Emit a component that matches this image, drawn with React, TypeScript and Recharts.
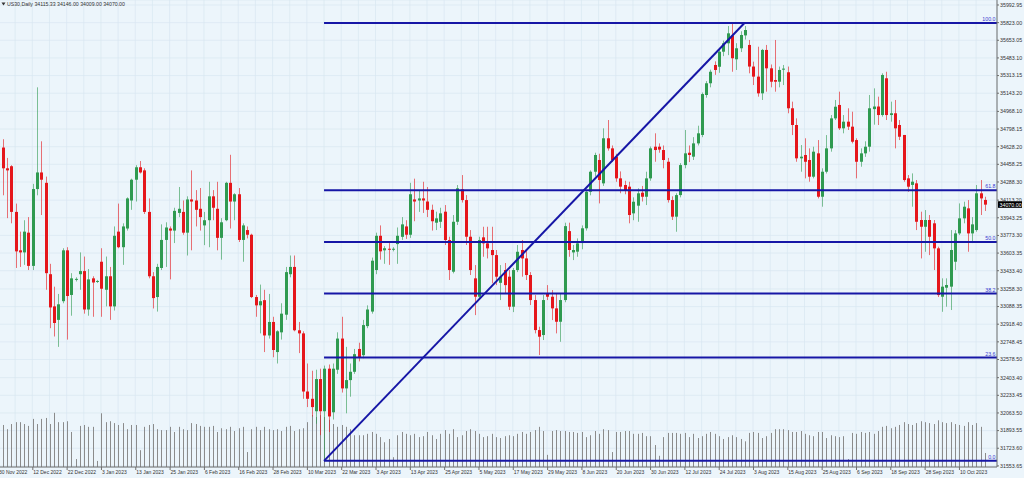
import React from 'react';
import {
  ComposedChart,
  Bar,
  XAxis,
  YAxis,
  CartesianGrid,
  ReferenceLine
} from 'recharts';

// ==========================================
// US30 daily, 30 Nov 2022 -> Oct 2023
// ==========================================

const openPrices = [
  33880, 34620, 34420, 34440, 34000, 33630, 33610, 33800, 33480, 34220,
  34380, 34280, 33400, 33090, 32960, 33140, 33630, 33200, 33350, 33400,
  33430, 33060, 33360, 33330, 33520, 33250, 33380, 33090, 33810, 33660,
  33840, 34110, 34310, 34430, 34400, 34000, 33380, 33180, 33460, 33730,
  33840, 33820, 33990, 34000, 33800, 34120, 34110, 34030, 33870, 33920,
  34150, 34030, 33750, 33920, 34280, 34100, 34170, 33730, 33825, 33780,
  33180, 33100, 33150, 32810, 32940, 32650, 32840, 33010, 33400, 33470,
  32860, 32830, 32270, 32200, 32080, 32390, 32080, 32490, 32070, 32480,
  32780, 32300, 32380, 32460, 32680, 32620, 32900, 33040, 33440, 33770,
  33630, 33645, 33640, 33690, 33760, 33860, 33780, 34120, 34110, 34130,
  34100, 34020, 33896, 33905, 34002, 33729, 33424, 33905, 34217, 34114,
  33761, 33360, 33183, 33755, 33697, 33633, 33584, 33317, 33440, 33376,
  33087, 33440, 33633, 33552, 33392, 33151, 32862, 32814, 33215, 33183,
  33071, 32942, 33151, 33815, 33610, 33617, 33700, 33842, 34194, 34387,
  34500, 34275, 34709, 34612, 34532, 34323, 34259, 34243, 33986, 34060,
  34185, 34146, 34323, 34628, 34628, 34596, 34483, 34114, 33954, 34162,
  34451, 34570, 34532, 34660, 34741, 35126, 35239, 35415, 35398, 35543,
  35624, 35700, 35470, 35576, 35700, 35608, 35400, 35303, 35142, 35560,
  35383, 35270, 35254, 35370, 35345, 34998, 34837, 34516, 34548, 34500,
  34339, 34564, 34146, 34387, 34612, 34901, 35030, 34805, 34869, 34821,
  34692, 34483, 34564, 34628, 34990, 35015, 34933, 35287, 34933, 34950,
  34837, 34741, 34323, 34260, 34275, 33922, 33857, 33922, 33890, 33649,
  33183, 33270, 33280, 33520, 33793, 33938, 34034, 33793, 33825, 34179,
  34115.33
];

const highPrices = [
  34660, 34700, 34520, 34450, 34080, 33810, 33920, 33950, 34270, 35200,
  34680, 34340, 33500, 33280, 33210, 33650, 33660, 33410, 33370, 33610,
  33570, 33450, 33380, 33345, 33650, 33570, 33470, 33860, 34080, 33890,
  34140, 34320, 34450, 34490, 34420, 34130, 33420, 33500, 33880, 33900,
  33860, 34040, 34240, 34110, 34150, 34400, 34210, 34230, 34000, 34290,
  34210, 34290, 33940, 34290, 34550, 34180, 34230, 33890, 33860, 33790,
  33200, 33300, 33250, 33210, 32990, 32860, 33120, 33470, 33580, 33580,
  32940, 32850, 32540, 32470, 32480, 32490, 32520, 32530, 32540, 32840,
  32990, 32700, 32540, 32680, 32740, 32960, 33100, 33560, 33800, 33870,
  33670, 33700, 33660, 33850, 33950, 33920, 34280, 34320, 34210, 34290,
  34240, 34070, 34002, 34040, 34066, 33761, 33970, 34259, 34355, 34162,
  33825, 33488, 33761, 33857, 33857, 33857, 33633, 33488, 33508, 33440,
  33460, 33681, 33729, 33633, 33420, 33199, 32894, 33199, 33295, 33247,
  33215, 33215, 33896, 33896, 33681, 33745, 33870, 34210, 34400, 34570,
  34560, 34805, 34885, 34640, 34560, 34390, 34300, 34290, 34140, 34227,
  34250, 34387, 34630, 34757, 34660, 34640, 34520, 34150, 34180, 34470,
  34789, 34640, 34720, 34830, 35150, 35260, 35370, 35450, 35560, 35650,
  35790, 35820, 35625, 35740, 35790, 35656, 35447, 35591, 35570, 35608,
  35420, 35656, 35400, 35415, 35400, 35062, 34901, 34644, 34709, 34612,
  34628, 34692, 34420, 34740, 34933, 35078, 35158, 34933, 34998, 34965,
  34709, 34612, 34680, 35126, 35190, 35110, 35335, 35350, 35062, 35078,
  34885, 34741, 34355, 34371, 34307, 34002, 34018, 33970, 33922, 33665,
  33360, 33360, 33825, 33825, 34082, 34098, 34114, 33950, 34259, 34307,
  34146
];

const lowPrices = [
  33800, 34160, 33940, 33890, 33460, 33470, 33490, 33440, 33440, 34160,
  33970, 33250, 32880, 32800, 32700, 33120, 32770, 33000, 33330, 33250,
  33020, 33000, 32990, 33315, 32990, 33090, 32960, 33050, 33650, 33490,
  33820, 34020, 34100, 34370, 33980, 33360, 33070, 33040, 33440, 33470,
  33350, 33700, 33950, 33780, 33580, 33630, 33860, 33820, 33680, 33660,
  33920, 33630, 33540, 33910, 33840, 33920, 33710, 33520, 33745, 33170,
  32990, 32830, 32650, 32780, 32600, 32540, 32770, 32960, 33370, 32850,
  32640, 32200, 32120, 32030, 31960, 31850, 31602, 31880, 32000, 32440,
  32260, 32060, 32220, 32440, 32560, 32590, 32880, 33020, 33400, 33540,
  33500, 33490, 33620, 33500, 33730, 33740, 33750, 33910, 34000, 33990,
  33950, 33820, 33825, 33845, 33681, 33344, 33408, 33874, 34090, 33681,
  33392, 33006, 33170, 33568, 33552, 33312, 33295, 33151, 33218, 33055,
  33035, 33420, 33376, 33344, 33103, 32830, 32621, 32766, 33151, 32958,
  32830, 32749, 33130, 33568, 33536, 33568, 33640, 33820, 34160, 34340,
  34082, 34250, 34590, 34480, 34290, 34180, 34170, 33890, 33920, 33905,
  34100, 34066, 34300, 34483, 34570, 34420, 34090, 33922, 33809, 34140,
  34420, 34480, 34500, 34640, 34720, 35100, 35200, 35320, 35340, 35500,
  35510, 35350, 35367, 35540, 35660, 35335, 35222, 35110, 35078, 35158,
  35200, 35158, 35200, 35222, 34950, 34740, 34483, 34387, 34323, 34291,
  34323, 34130, 34050, 34370, 34580, 34885, 34789, 34757, 34789, 34660,
  34323, 34435, 34530, 34580, 34840, 34837, 34917, 34885, 34869, 34612,
  34692, 34291, 34194, 34050, 33825, 33552, 33616, 33584, 33440, 33180,
  33038, 33087, 33055, 33440, 33777, 33890, 33616, 33700, 33809, 33970,
  34009
];

const closePrices = [
  34620, 34420, 34400, 34000, 33620, 33610, 33810, 33480, 34220, 34380,
  34310, 33410, 33080, 32930, 33110, 33630, 33190, 33360, 33355, 33430,
  33060, 33350, 33320, 33335, 33260, 33380, 33090, 33770, 33660, 33860,
  34130, 34310, 34430, 34380, 34000, 33380, 33170, 33470, 33730, 33850,
  33820, 34010, 34030, 33800, 34120, 34100, 34020, 33950, 33920, 34150,
  34040, 33750, 33900, 34280, 34100, 34170, 33730, 33870, 33780, 33180,
  33100, 33140, 32810, 32940, 32670, 32850, 33020, 33420, 33470, 32860,
  32830, 32270, 32200, 32120, 32390, 32080, 32490, 32030, 32490, 32780,
  32300, 32380, 32460, 32630, 32600, 32910, 33060, 33530, 33770, 33620,
  33650, 33640, 33645, 33770, 33880, 33780, 34170, 34100, 34130, 34110,
  34020, 33910, 33938, 33986, 33729, 33440, 33905, 34227, 34114, 33761,
  33440, 33183, 33729, 33697, 33649, 33584, 33376, 33376, 33295, 33087,
  33440, 33616, 33552, 33392, 33151, 32862, 32798, 33151, 33183, 33071,
  32942, 33151, 33863, 33633, 33633, 33697, 33842, 34194, 34387, 34548,
  34307, 34709, 34612, 34500, 34323, 34243, 34210, 33970, 34098, 34179,
  34146, 34323, 34612, 34596, 34600, 34500, 34114, 33954, 34162, 34451,
  34564, 34548, 34660, 34757, 35135, 35239, 35350, 35367, 35543, 35624,
  35720, 35480, 35576, 35704, 35752, 35400, 35303, 35142, 35560, 35383,
  35254, 35254, 35367, 35380, 34998, 34837, 34516, 34532, 34483, 34339,
  34580, 34146, 34387, 34612, 34901, 35013, 34805, 34869, 34821, 34676,
  34483, 34564, 34628, 34998, 35015, 34933, 35319, 34933, 34950, 34805,
  34724, 34307, 34243, 34291, 33905, 33857, 33922, 33761, 33649, 33199,
  33280, 33296, 33633, 33793, 33938, 34050, 33793, 33880, 34179, 34130,
  34070
];

const tickVolumes = [
  100, 90, 81, 92, 96, 96, 92, 88, 103, 92,
  103, 105, 92, 116, 96, 96, 98, 75, 17, 88,
  90, 86, 86, 13, 115, 96, 98, 94, 90, 94,
  81, 90, 90, 36, 86, 90, 92, 81, 79, 79,
  86, 75, 86, 81, 79, 94, 92, 88, 86, 86,
  88, 75, 83, 81, 86, 77, 83, 86, 32, 81,
  86, 79, 86, 81, 79, 81, 77, 86, 88, 77,
  81, 83, 96, 111, 107, 111, 107, 101, 92, 86,
  90, 86, 81, 68, 68, 68, 71, 75, 71, 64,
  53, 60, 21, 68, 75, 71, 68, 71, 64, 66,
  75, 68, 60, 71, 79, 71, 81, 64, 68, 77,
  81, 77, 71, 64, 66, 71, 64, 62, 66, 68,
  66, 71, 75, 71, 75, 79, 86, 77, 26, 77,
  79, 77, 77, 75, 75, 73, 75, 64, 68, 77,
  71, 81, 79, 32, 75, 75, 77, 77, 71, 71,
  73, 66, 66, 47, 24, 64, 73, 73, 73, 71,
  73, 64, 71, 62, 66, 71, 75, 71, 66, 60,
  64, 68, 64, 60, 55, 73, 75, 73, 62, 66,
  73, 81, 81, 81, 79, 75, 75, 77, 71, 68,
  66, 75, 75, 62, 68, 66, 64, 66, 17, 73,
  71, 75, 73, 75, 71, 77, 86, 88, 83, 86,
  90, 96, 92, 90, 94, 98, 96, 94, 92, 100,
  96, 94, 96, 92, 90, 88, 96, 90, 94, 86,
  30
];

// one date label every 8 bars
const dateLabels = [
  '30 Nov 2022', '12 Dec 2022', '22 Dec 2022', '3 Jan 2023', '13 Jan 2023',
  '25 Jan 2023', '6 Feb 2023', '16 Feb 2023', '28 Feb 2023', '10 Mar 2023',
  '22 Mar 2023', '3 Apr 2023', '13 Apr 2023', '25 Apr 2023', '5 May 2023',
  '17 May 2023', '29 May 2023', '8 Jun 2023', '20 Jun 2023', '30 Jun 2023',
  '12 Jul 2023', '24 Jul 2023', '3 Aug 2023', '15 Aug 2023', '25 Aug 2023',
  '6 Sep 2023', '18 Sep 2023', '28 Sep 2023', '10 Oct 2023'
];

const priceTicks = [
  35992.95, 35823.0, 35653.05, 35483.1, 35313.15, 35143.2, 34968.1,
  34798.15, 34628.2, 34458.25, 34288.3, 34113.2, 33943.25, 33773.3,
  33603.35, 33433.4, 33258.3, 33088.35, 32918.4, 32748.45, 32578.5,
  32403.4, 32233.45, 32063.5, 31893.55, 31723.6, 31553.65
];

// fibonacci retracement (anchors: low bar -> high)
const fibLow = 31602;
const fibHigh = 35820;
const fibLevels = [0, 23.6, 38.2, 50, 61.8, 100];
const fibStartBar = 76;
const fibEndBar = 174;

// ==========================================
// layout constants
// ==========================================

const FONT = '"Liberation Sans", Arial, sans-serif';
const BULL = '#2f9a50';
const BEAR = '#e5161b';
const FIB = '#1616a6';
const X_DOMAIN: [number, number] = [-0.466, 232.87];
const Y_DOMAIN: [number, number] = [31543, 36041];

const last = closePrices.length - 1;

const bars = openPrices.map((o, i) => ({
  i,
  range: [lowPrices[i], highPrices[i]],
  o,
  h: highPrices[i],
  l: lowPrices[i],
  c: closePrices[i],
  vol: tickVolumes[i]
}));

const gridBars = Array.from({ length: 58 }, (_, k) => k * 4);

const fibPrice = (pct: number) => fibLow + ((fibHigh - fibLow) * pct) / 100;

function Candle(props: any) {
  const { x, y, width, height, payload } = props;
  if (!payload || x == null || y == null) return null;
  const top = Math.min(y, y + height);
  const span = Math.abs(height);
  const k = payload.h > payload.l ? span / (payload.h - payload.l) : 0;
  const py = (p: number) => top + (payload.h - p) * k;
  const cx = Math.round(x + width / 2);
  const color = payload.c >= payload.o ? BULL : BEAR;
  const bodyTop = py(Math.max(payload.o, payload.c));
  const bodyH = Math.max(1, py(Math.min(payload.o, payload.c)) - bodyTop);
  return (
    <g>
      <line
        x1={cx + 0.5}
        x2={cx + 0.5}
        y1={top}
        y2={top + span}
        stroke={color}
        strokeOpacity={0.6}
        strokeWidth={1}
      />
      <rect x={cx - 1} y={bodyTop} width={3} height={bodyH} fill={color} />
    </g>
  );
}

function VolumeLine(props: any) {
  const { x, y, width, height } = props;
  if (x == null || y == null) return null;
  const cx = Math.round(x + width / 2) + 0.5;
  return (
    <line
      x1={cx}
      x2={cx}
      y1={Math.min(y, y + height)}
      y2={Math.max(y, y + height)}
      stroke="#8b8b8b"
      strokeWidth={1}
    />
  );
}

function DateTick(props: any) {
  const { x, y, payload } = props;
  const v = payload?.value;
  if (v == null || v % 8 !== 0) return null;
  const label = dateLabels[v / 8];
  if (!label) return null;
  return (
    <g>
      <line x1={x + 0.5} x2={x + 0.5} y1={y} y2={y + 3} stroke="#6e6e6e" />
      <text x={x + 1} y={y + 7.2} fontSize={5} fill="#333" fontFamily={FONT}>
        {label}
      </text>
    </g>
  );
}

function FibTag(props: any) {
  const vb = props.viewBox;
  if (!vb) return null;
  const right = vb.x2 != null ? Math.max(vb.x1, vb.x2) : vb.x + vb.width;
  const yy = vb.y2 != null ? vb.y2 : vb.y;
  return (
    <text
      x={right - 1.5}
      y={yy - 1.8}
      textAnchor="end"
      fontSize={5.3}
      fill="#3b3bd0"
      fontFamily={FONT}
    >
      {props.text}
    </text>
  );
}

function PriceTag(props: any) {
  const vb = props.viewBox;
  if (!vb) return null;
  const right = vb.x2 != null ? Math.max(vb.x1, vb.x2) : vb.x + vb.width;
  const yy = vb.y2 != null ? vb.y2 : vb.y;
  return (
    <g>
      <rect x={right + 1} y={yy - 3.4} width={24} height={6.6} fill="#000" />
      <text
        x={right + 2.5}
        y={yy + 1.9}
        fontSize={5.3}
        fill="#fff"
        fontFamily={FONT}
      >
        {closePrices[last].toFixed(2)}
      </text>
    </g>
  );
}

export default function App() {
  const header = `US30,Daily  ${openPrices[last].toFixed(2)} ${highPrices[last].toFixed(2)} ${lowPrices[last].toFixed(2)} ${closePrices[last].toFixed(2)}`;

  return (
    <div
      style={{
        position: 'absolute',
        left: 0,
        top: 0,
        width: 1024,
        height: 478,
        overflow: 'hidden',
        background: '#ecf5fb'
      }}
    >
      <div style={{ position: 'absolute', left: -4, top: 0 }}>
        <ComposedChart
          width={1028}
          height={478}
          data={bars}
          margin={{ top: 0, right: 0, bottom: 0, left: 0 }}
        >
          <CartesianGrid xAxisId="t" yAxisId="p" stroke="#d8e6f1" strokeWidth={0.7} />

          <XAxis
            xAxisId="t"
            dataKey="i"
            type="number"
            domain={X_DOMAIN}
            allowDataOverflow
            ticks={gridBars}
            interval={0}
            height={11}
            tickSize={0}
            tickMargin={0}
            tickLine={false}
            tick={<DateTick />}
            axisLine={{ stroke: '#6e6e6e' }}
          />
          <XAxis
            xAxisId="v"
            dataKey="i"
            type="number"
            domain={X_DOMAIN}
            allowDataOverflow
            hide
          />

          <YAxis
            yAxisId="p"
            orientation="right"
            type="number"
            width={27}
            domain={Y_DOMAIN}
            allowDataOverflow
            ticks={priceTicks}
            interval={0}
            tickSize={2}
            tickMargin={1}
            tickFormatter={(v: number) => v.toFixed(2)}
            tick={{ fontSize: 5.3, fill: '#333', fontFamily: FONT }}
            axisLine={{ stroke: '#6e6e6e' }}
            tickLine={{ stroke: '#6e6e6e' }}
          />
          <YAxis yAxisId="vol" hide domain={[0, 1000]} />

          <Bar
            xAxisId="v"
            yAxisId="vol"
            dataKey="vol"
            barSize={3}
            shape={<VolumeLine />}
            isAnimationActive={false}
          />

          <Bar
            xAxisId="t"
            yAxisId="p"
            dataKey="range"
            barSize={3}
            shape={<Candle />}
            isAnimationActive={false}
          />

          {fibLevels.map((pct) => (
            <ReferenceLine
              key={pct}
              xAxisId="t"
              yAxisId="p"
              ifOverflow="visible"
              segment={[
                { x: fibStartBar, y: fibPrice(pct) },
                { x: X_DOMAIN[1], y: fibPrice(pct) }
              ]}
              stroke={FIB}
              strokeWidth={2}
              label={(p: any) => <FibTag {...p} text={pct.toFixed(1)} />}
            />
          ))}

          <ReferenceLine
            xAxisId="t"
            yAxisId="p"
            ifOverflow="visible"
            segment={[
              { x: fibStartBar, y: fibLow },
              { x: fibEndBar, y: fibHigh }
            ]}
            stroke={FIB}
            strokeWidth={2}
          />

          <ReferenceLine
            xAxisId="t"
            yAxisId="p"
            ifOverflow="visible"
            y={closePrices[last]}
            stroke="none"
            label={(p: any) => <PriceTag {...p} />}
          />
        </ComposedChart>
      </div>

      <svg
        width={200}
        height={12}
        style={{ position: 'absolute', left: 0, top: 0 }}
      >
        <polygon points="1.5,2.6 5.5,2.6 3.5,5.6" fill="#333" />
        <text x={7} y={5.8} fontSize={5.2} fill="#333" fontFamily={FONT}>
          {header}
        </text>
      </svg>
    </div>
  );
}
